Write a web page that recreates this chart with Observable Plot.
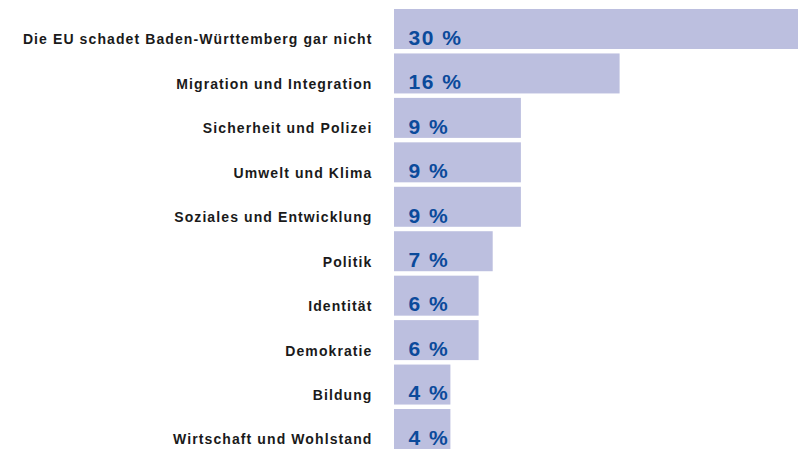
<!DOCTYPE html>
<html>
<head>
<meta charset="utf-8">
<script src="https://cdn.jsdelivr.net/npm/d3@7"></script>
<script src="https://cdn.jsdelivr.net/npm/@observablehq/plot@0.6"></script>
<style>
  html, body { margin: 0; padding: 0; background: #fff; }
  #chart svg { display: block; }
</style>
</head>
<body>
<div id="chart"></div>
<script>
const categories = [
  "Die EU schadet Baden-Württemberg gar nicht",
  "Migration und Integration",
  "Sicherheit und Polizei",
  "Umwelt und Klima",
  "Soziales und Entwicklung",
  "Politik",
  "Identität",
  "Demokratie",
  "Bildung",
  "Wirtschaft und Wohlstand"
];
const values = [30, 16, 9, 9, 9, 7, 6, 6, 4, 4];

const data = categories.map((c, i) => ({category: c, value: values[i]}));

const chart = Plot.plot({
  width: 798,
  height: 449,
  marginLeft: 394,
  marginRight: 0,
  marginTop: 9,
  marginBottom: 0,
  x: {domain: [0, 30], range: [394, 394 + 30 * 14.1], axis: null},
  y: {domain: categories, paddingInner: 0.1, paddingOuter: 0, round: false, axis: null},
  style: {fontFamily: "'Liberation Sans', Arial, sans-serif", background: "#fff"},
  marks: [
    Plot.barX(data, {y: "category", x: "value", fill: "#bcbfdf", clip: true}),
    Plot.text(data, {
      y: "category", x: 0, text: "category",
      textAnchor: "end", dx: -22, dy: 10.5,
      fontSize: 14, fontWeight: "bold", fill: "#1a1a1a"
    }),
    Plot.text(data, {
      y: "category", x: 0, text: d => d.value + " %",
      textAnchor: "start", dx: 14, dy: 8.5,
      fontSize: 21, fontWeight: "bold", fill: "#0b4a9b"
    })
  ]
});
const textGroups = chart.querySelectorAll('g[aria-label="text"]');
if (textGroups[0]) textGroups[0].style.letterSpacing = "1.1px";
if (textGroups[1]) textGroups[1].style.letterSpacing = "1.5px";
document.getElementById("chart").appendChild(chart);
</script>
</body>
</html>
